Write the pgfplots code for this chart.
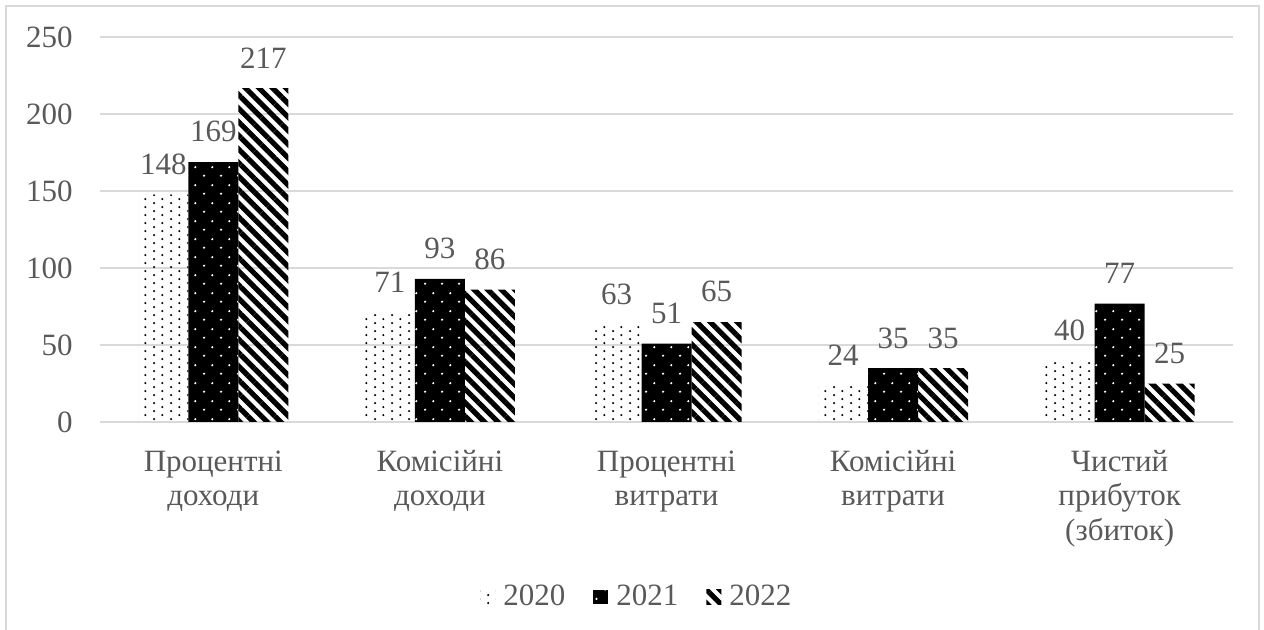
\documentclass[border=0pt]{standalone}
\usepackage{fontspec}
\setmainfont{Liberation Serif}
\usepackage{pgfplots}
\pgfplotsset{compat=1.18}
\usetikzlibrary{patterns.meta}

\definecolor{txt}{HTML}{595959}
\definecolor{rulegray}{HTML}{D9D9D9}

\newcommand{\chartfont}{\fontsize{15.5}{17.25}\selectfont}

% staggered dot fills
\tikzdeclarepattern{
  name=sparsedots,
  type=uncolored,
  bottom left={(0pt,0pt)},
  top right={(8.35pt,4.2pt)},
  tile size={(8.35pt,4.2pt)},
  code={
    \fill (2.09pt,1.05pt) circle (0.6pt);
    \fill (6.26pt,3.15pt) circle (0.6pt);
  }
}
\tikzdeclarepattern{
  name=widedots,
  type=uncolored,
  bottom left={(0pt,0pt)},
  top right={(8.35pt,9pt)},
  tile size={(8.35pt,9pt)},
  code={
    \fill (2.09pt,2.25pt) circle (0.6pt);
    \fill (6.26pt,6.75pt) circle (0.6pt);
  }
}

\pgfplotsset{
  sqlegend/.style={
    legend image code/.code={\path[##1, draw=none] (0pt,-3.6pt) rectangle (7.5pt,3.6pt);}
  },
  s2020/.style={draw=none, pattern=sparsedots, pattern color=black},
  s2021/.style={draw=none, fill=black, postaction={pattern=widedots, pattern color=white}},
  s2022/.style={draw=none, pattern={Lines[angle=-45, distance=4.8pt, line width=2.6pt]}, pattern color=black},
}

\begin{document}
\begin{tikzpicture}
\useasboundingbox (0,0) rectangle (632pt,315pt);
% chart frame
\draw[rulegray, line width=0.8pt] (3pt,-2pt) -- (3pt,312pt) -- (629.5pt,312pt) -- (629.5pt,-2pt);
\begin{axis}[
  at={(50pt,104pt)}, anchor=south west,
  scale only axis, width=566.5pt, height=192.25pt,
  xmin=-0.5, xmax=4.5, ymin=0, ymax=250,
  ytick={0,50,100,150,200,250},
  xtick={0,1,2,3,4},
  xticklabels={{\strut Процентні\\доходи},{\strut Комісійні\\доходи},{\strut Процентні\\витрати},{\strut Комісійні\\витрати},{\strut Чистий\\прибуток\\(збиток)}},
  axis line style={draw=none},
  major tick length=0pt,
  tick style={draw=none},
  ymajorgrids, major grid style={rulegray, line width=1pt},
  /pgf/number format/assume math mode=true,
  tick label style={font=\chartfont, text=txt},
  xticklabel style={align=center, anchor=north, inner sep=0pt, yshift=-12.3pt},
  yticklabel style={anchor=east, inner sep=0pt, xshift=-13.5pt},
  ybar=0pt, bar width=25pt,
  nodes near coords,
  nodes near coords style={font=\chartfont, text=txt, anchor=south, inner sep=0pt, yshift=9.7pt},
  legend columns=-1,
  legend style={at={(0.4766,-0.455)}, anchor=center, draw=none, fill=none,
    font=\chartfont, text=txt,
    nodes={inner xsep=4pt, inner ysep=2pt},
    column sep=0pt},
]
\addplot[s2020, sqlegend] coordinates {(0,148) (1,71) (2,63) (3,24) (4,40)};
\addplot[s2021, sqlegend] coordinates {(0,169) (1,93) (2,51) (3,35) (4,77)};
\addplot[s2022, sqlegend] coordinates {(0,217) (1,86) (2,65) (3,35) (4,25)};
\legend{\makebox[41pt][l]{2020},\makebox[41pt][l]{2021},2022}
\end{axis}
\end{tikzpicture}
\end{document}
